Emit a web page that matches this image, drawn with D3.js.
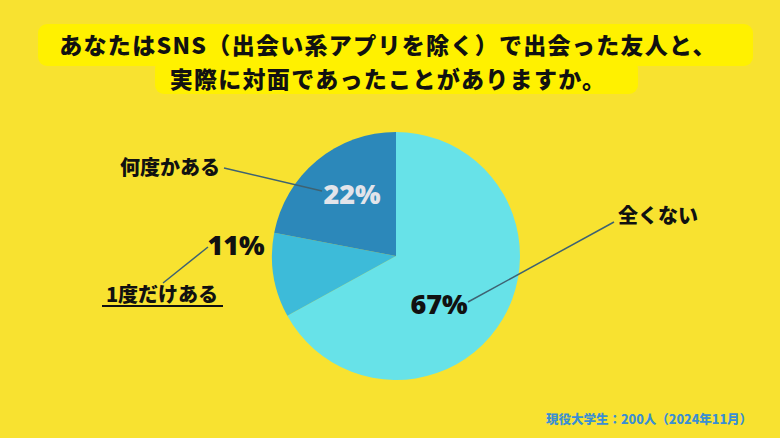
<!DOCTYPE html>
<html><head><meta charset="utf-8">
<script src="https://cdn.jsdelivr.net/npm/d3@7/dist/d3.min.js"></script>
<style>
html,body{margin:0;padding:0;background:#F8E230;}
svg{display:block;font-family:"Noto Sans CJK JP","Noto Sans",sans-serif;}
</style></head>
<body><svg id="c" width="780" height="438"></svg>
<script>
const categories = ["全くない", "1度だけある", "何度かある"];
const values = [67, 11, 22];
const pctLabels = ["67%", "11%", "22%"];
const titleLines = ["あなたはSNS（出会い系アプリを除く）で出会った友人と、", "実際に対面であったことがありますか。"];
const footnote = "現役大学生：200人（2024年11月）";

const svg = d3.select("#c");
svg.append("rect").attr("width",780).attr("height",438).attr("fill","#F8E230");

// title highlight boxes
const tb = [{x:38,y:24,w:715,h:42},{x:155,y:60,w:483,h:34}];
svg.selectAll(".tb").data(tb).enter().append("rect")
  .attr("x",d=>d.x).attr("y",d=>d.y).attr("width",d=>d.w).attr("height",d=>d.h)
  .attr("rx",9).attr("fill","#FFF100");
svg.selectAll(".tt").data(titleLines).enter().append("text")
  .attr("x",388).attr("y",(d,i)=>[54,88][i]).attr("text-anchor","middle")
  .attr("font-size",23).attr("letter-spacing","1.3px").attr("font-weight",900).attr("fill","#111").text(d=>d);

const cx=396, cy=256, r=124;
const colors = d3.scaleOrdinal().domain(categories).range(["#67E2E8","#3DBBD9","#2C88BA"]);
const pie = d3.pie().sort(null).value(d=>d)(values);
const arc = d3.arc().innerRadius(0).outerRadius(r);
const g = svg.append("g").attr("transform",`translate(${cx},${cy})`);
g.selectAll("path").data(pie).enter().append("path")
  .attr("d",arc).attr("fill",(d,i)=>colors(categories[i]));

// leader lines
const lines = [
  {x1:468,y1:302,x2:614,y2:222},
  {x1:208,y1:247,x2:163,y2:283},
  {x1:322,y1:191,x2:224,y2:168}
];
svg.selectAll(".ld").data(lines).enter().append("line")
  .attr("x1",d=>d.x1).attr("y1",d=>d.y1).attr("x2",d=>d.x2).attr("y2",d=>d.y2)
  .attr("stroke","#3E6272").attr("stroke-width",1.5);

// percentage labels
const pl = [{x:439,y:314,fill:"#111"},{x:236,y:255,fill:"#111"},{x:352,y:204,fill:"#E2E4EA"}];
svg.selectAll(".pl").data(pctLabels).enter().append("text")
  .attr("x",(d,i)=>pl[i].x).attr("y",(d,i)=>pl[i].y).attr("text-anchor","middle")
  .attr("font-size",27).attr("font-weight",800).attr("fill",(d,i)=>pl[i].fill)
  .attr("font-family","'Open Sans','Noto Sans',sans-serif").text(d=>d);

// category labels
const cl = [{x:658,y:223},{x:162,y:302},{x:170,y:175}];
svg.selectAll(".cl").data(categories).enter().append("text")
  .attr("x",(d,i)=>cl[i].x).attr("y",(d,i)=>cl[i].y).attr("text-anchor","middle")
  .attr("font-size",20).attr("font-weight",900).attr("fill","#111").text(d=>d);
// underline for 1度だけある
svg.append("line").attr("x1",102).attr("x2",223).attr("y1",306).attr("y2",306)
  .attr("stroke","#111").attr("stroke-width",2);

svg.append("text").attr("x",752).attr("y",424).attr("text-anchor","end")
  .attr("font-size",12.5).attr("font-weight",900).attr("fill","#3A8FD3").text(footnote);
</script></body></html>
